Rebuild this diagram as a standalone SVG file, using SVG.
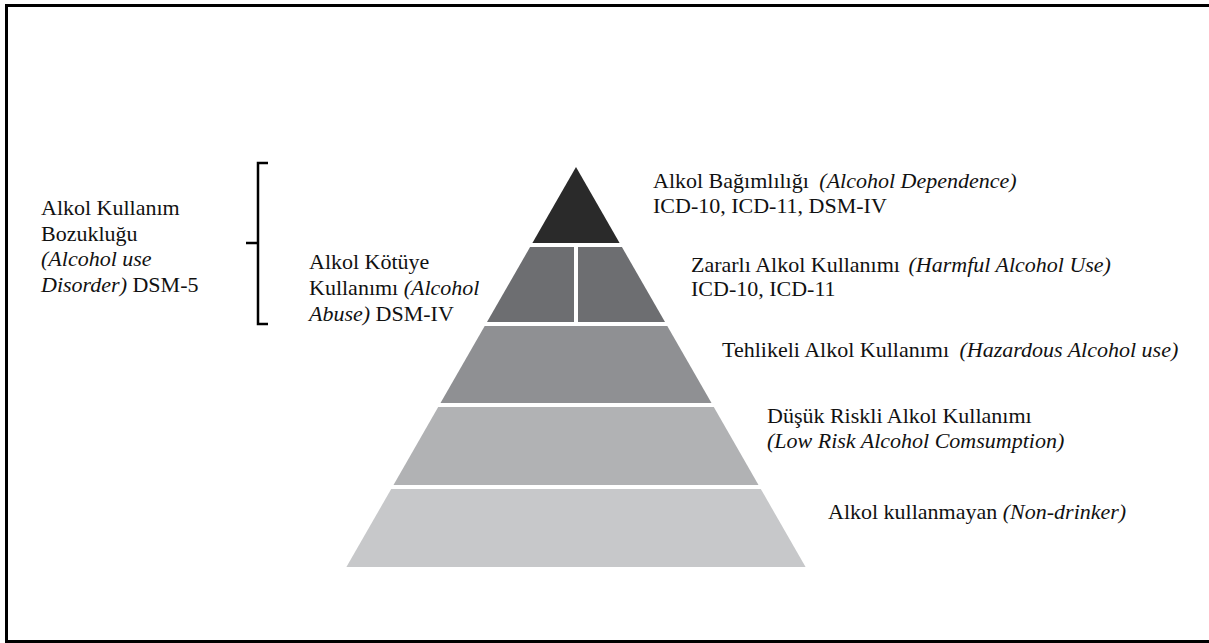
<svg xmlns="http://www.w3.org/2000/svg" width="1209" height="643" viewBox="0 0 1209 643">
<style>
.t{font-size:22px;fill:#111}
.i{font-style:italic}
.br{fill:none;stroke:#000;stroke-width:2.5}
</style>
<rect width="1209" height="643" fill="#fff"/>
<g id="frame">
<rect x="5" y="4" width="1204" height="3" fill="#000"/>
<rect x="5" y="4" width="3" height="639" fill="#000"/>
<rect x="5" y="640" width="1204" height="3" fill="#000"/>
</g>
<g id="pyramid">
<g id="tier1"><polygon points="576,167 619.6,243 532.4,243" fill="#2a2a2a"/></g>
<g id="tier2">
<polygon points="530.1,247 574,247 574,322 487,322" fill="#6d6e71"/>
<polygon points="578,247 621.9,247 665,322 578,322" fill="#6d6e71"/>
</g>
<g id="tier3"><polygon points="484.7,326 667.3,326 711.5,403 440.5,403" fill="#8f9093"/></g>
<g id="tier4"><polygon points="438.2,407 713.8,407 758.5,485 393.5,485" fill="#b1b2b4"/></g>
<g id="tier5"><polygon points="391.2,489 760.8,489 805.6,567 346.4,567" fill="#c7c8ca"/></g>
</g>
<g id="connectors">
<path class="br" d="M268,163 H258 V324 H268 M258,243 H246"/>
</g>
<g class="t" font-family="Liberation Serif, DejaVu Serif, serif" font-size="22">
<g id="label-aud">
<text x="41" y="215">Alkol Kullanım</text>
<text x="41" y="241">Bozukluğu</text>
<text x="41" y="266" class="i">(Alcohol use</text>
<text x="41" y="292"><tspan class="i">Disorder)</tspan> DSM-5</text>
</g>
<g id="label-abuse">
<text x="309" y="269">Alkol Kötüye</text>
<text x="309" y="295">Kullanımı <tspan class="i">(Alcohol</tspan></text>
<text x="309" y="321"><tspan class="i">Abuse)</tspan> DSM-IV</text>
</g>
<g id="label-dependence">
<text x="653" y="188">Alkol Bağımlılığı <tspan class="i" dx="5">(Alcohol Dependence)</tspan></text>
<text x="653" y="213">ICD-10, ICD-11, DSM-IV</text>
</g>
<g id="label-harmful">
<text x="691" y="272">Zararlı Alkol Kullanımı <tspan class="i" dx="3">(Harmful Alcohol Use)</tspan></text>
<text x="691" y="296">ICD-10, ICD-11</text>
</g>
<g id="label-hazardous">
<text x="722" y="357">Tehlikeli Alkol Kullanımı <tspan class="i" dx="5">(Hazardous Alcohol use)</tspan></text>
</g>
<g id="label-lowrisk">
<text x="767" y="423">Düşük Riskli Alkol Kullanımı</text>
<text x="767" y="448" class="i">(Low Risk Alcohol Comsumption)</text>
</g>
<g id="label-nondrinker">
<text x="828" y="519">Alkol kullanmayan <tspan class="i">(Non-drinker)</tspan></text>
</g>
</g>
</svg>
